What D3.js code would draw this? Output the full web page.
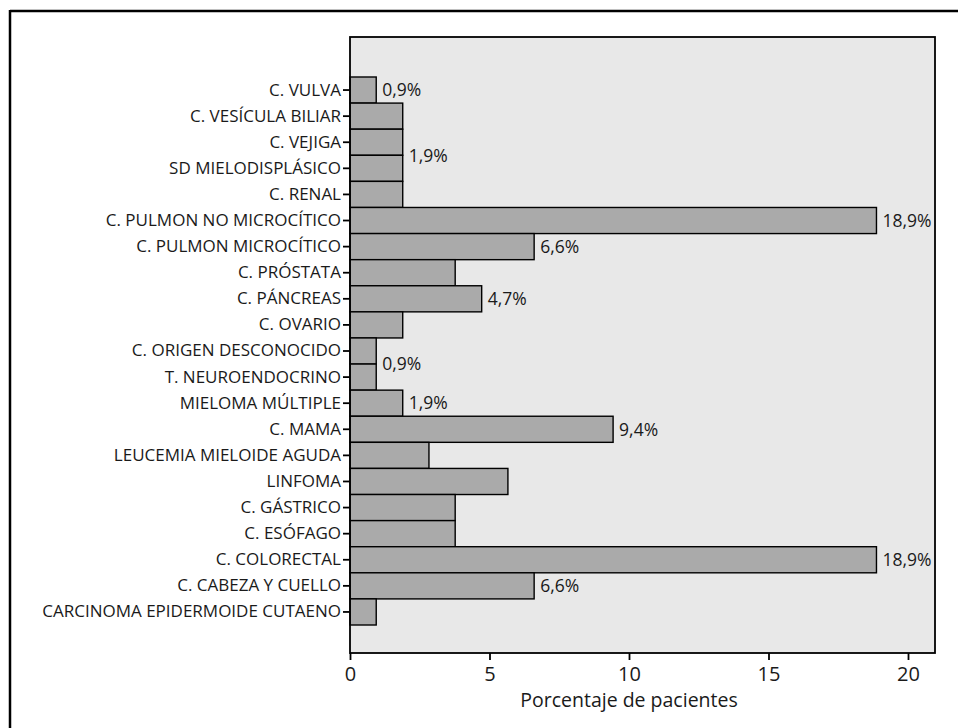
<!DOCTYPE html>
<html>
<head>
<meta charset="utf-8">
<script src="https://cdn.jsdelivr.net/npm/d3@7"></script>
<style>
  html, body { margin: 0; padding: 0; background: #ffffff; }
  svg { display: block; }
  text { font-family: "Open Sans", "Noto Sans", sans-serif; fill: #1a1a1a; }
</style>
</head>
<body>
<svg id="chart" width="958" height="728"></svg>
<script>
// ---- data ----
const categories = [
  "C. VULVA",
  "C. VESÍCULA BILIAR",
  "C. VEJIGA",
  "SD MIELODISPLÁSICO",
  "C. RENAL",
  "C. PULMON NO MICROCÍTICO",
  "C. PULMON MICROCÍTICO",
  "C. PRÓSTATA",
  "C. PÁNCREAS",
  "C. OVARIO",
  "C. ORIGEN DESCONOCIDO",
  "T. NEUROENDOCRINO",
  "MIELOMA MÚLTIPLE",
  "C. MAMA",
  "LEUCEMIA MIELOIDE AGUDA",
  "LINFOMA",
  "C. GÁSTRICO",
  "C. ESÓFAGO",
  "C. COLORECTAL",
  "C. CABEZA Y CUELLO",
  "CARCINOMA EPIDERMOIDE CUTAENO"
];
const percentages = [
  0.94, 1.89, 1.89, 1.89, 1.89, 18.87, 6.60, 3.77, 4.72, 1.89, 0.94,
  0.94, 1.89, 9.43, 2.83, 5.66, 3.77, 3.77, 18.87, 6.60, 0.94
];
const xTickValues = [0, 5, 10, 15, 20];
const xAxisTitle = "Porcentaje de pacientes";

// value annotations: text, first and last category of the group they label
const labelTexts = ["0,9%", "1,9%", "18,9%", "6,6%", "4,7%", "0,9%", "1,9%", "9,4%", "18,9%", "6,6%"];
const labelFirst = ["C. VULVA", "C. VESÍCULA BILIAR", "C. PULMON NO MICROCÍTICO", "C. PULMON MICROCÍTICO",
  "C. PÁNCREAS", "C. ORIGEN DESCONOCIDO", "MIELOMA MÚLTIPLE", "C. MAMA", "C. COLORECTAL", "C. CABEZA Y CUELLO"];
const labelLast = ["C. VULVA", "C. RENAL", "C. PULMON NO MICROCÍTICO", "C. PULMON MICROCÍTICO",
  "C. PÁNCREAS", "T. NEUROENDOCRINO", "MIELOMA MÚLTIPLE", "C. MAMA", "C. COLORECTAL", "C. CABEZA Y CUELLO"];

// ---- layout ----
const plot = { left: 350, right: 935, top: 37, bottom: 653 };
const svg = d3.select("#chart");

// outer frame (only top and left edges visible)
svg.append("line").attr("x1", 10).attr("x2", 958).attr("y1", 11).attr("y2", 11)
  .attr("stroke", "#000").attr("stroke-width", 2.5);
svg.append("line").attr("x1", 10).attr("x2", 10).attr("y1", 10).attr("y2", 728)
  .attr("stroke", "#000").attr("stroke-width", 2.5);

const x = d3.scaleLinear().domain([0, 21]).range([plot.left, plot.left + 21 * 27.9]);
const y = d3.scaleBand().domain(categories).range([77, 625]).padding(0);

// plot background
svg.append("rect")
  .attr("x", plot.left).attr("y", plot.top)
  .attr("width", plot.right - plot.left).attr("height", plot.bottom - plot.top)
  .attr("fill", "#e8e8e8");

// bars
svg.append("g").selectAll("rect")
  .data(categories)
  .join("rect")
  .attr("x", x(0))
  .attr("y", d => y(d))
  .attr("width", (d, i) => x(percentages[i]) - x(0))
  .attr("height", y.bandwidth())
  .attr("fill", "#aaaaaa")
  .attr("stroke", "#000")
  .attr("stroke-width", 1.4);

// plot frame
svg.append("rect")
  .attr("x", plot.left).attr("y", plot.top)
  .attr("width", plot.right - plot.left).attr("height", plot.bottom - plot.top)
  .attr("fill", "none").attr("stroke", "#000").attr("stroke-width", 1.8);

// y axis
const yAxis = svg.append("g")
  .attr("transform", `translate(${plot.left},0)`)
  .call(d3.axisLeft(y).tickSize(7).tickPadding(2));
yAxis.select(".domain").remove();
yAxis.selectAll(".tick line").attr("stroke", "#000").attr("stroke-width", 1.8);
yAxis.selectAll(".tick text")
  .style("font-family", "'Open Sans', sans-serif")
  .style("font-size", "17px")
  .style("fill", "#1a1a1a");

// x axis
const xAxis = svg.append("g")
  .attr("transform", `translate(0,${plot.bottom})`)
  .call(d3.axisBottom(x).tickValues(xTickValues).tickSize(7).tickPadding(7).tickFormat(d3.format("d")));
xAxis.select(".domain").remove();
xAxis.selectAll(".tick line").attr("stroke", "#000").attr("stroke-width", 1.8);
xAxis.selectAll(".tick text")
  .style("font-family", "'Open Sans', sans-serif")
  .style("font-size", "20px")
  .style("fill", "#1a1a1a");

// x axis title
svg.append("text")
  .attr("x", x(10))
  .attr("y", plot.bottom + 54)
  .attr("text-anchor", "middle")
  .style("font-size", "19.5px")
  .text(xAxisTitle);

// value labels
const labelData = labelTexts.map((t, i) => {
  const i0 = categories.indexOf(labelFirst[i]);
  const i1 = categories.indexOf(labelLast[i]);
  const vmax = d3.max(percentages.slice(i0, i1 + 1));
  const yc = (y(labelFirst[i]) + y(labelLast[i]) + y.bandwidth()) / 2;
  return { text: t, x: x(vmax), y: yc };
});
svg.append("g").selectAll("text")
  .data(labelData)
  .join("text")
  .attr("x", d => d.x + 6)
  .attr("y", d => d.y)
  .attr("dy", "0.36em")
  .style("font-size", "17.5px")
  .text(d => d.text);
</script>
</body>
</html>
